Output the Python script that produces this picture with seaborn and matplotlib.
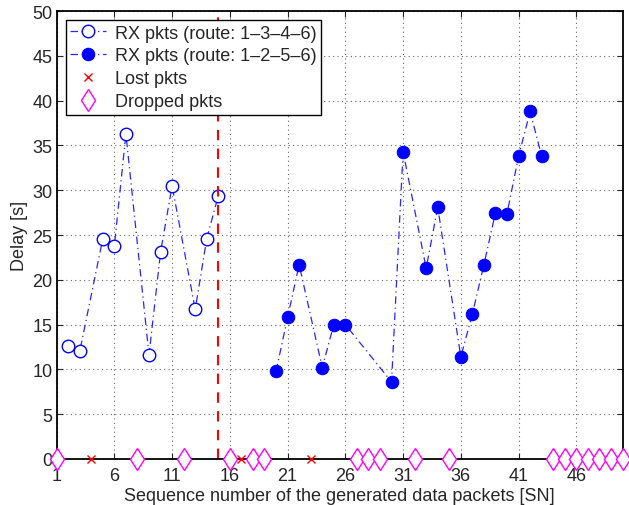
import numpy as np
import pandas as pd
import matplotlib
matplotlib.use("Agg")
import matplotlib.pyplot as plt
import seaborn as sns

# route 1-3-4-6 (before the switch)
sn_open = [2, 3, 5, 6, 7, 9, 10, 11, 13, 14, 15]
delay_open = [12.6, 12.0, 24.6, 23.8, 36.3, 11.6, 23.1, 30.5, 16.7, 24.6, 29.4]

# route 1-2-5-6 (after the switch)
sn_filled = [20, 21, 22, 24, 25, 26, 30, 31, 33, 34, 36, 37, 38, 39, 40, 41, 42, 43]
delay_filled = [9.8, 15.8, 21.7, 10.2, 15.0, 15.0, 8.6, 34.3, 21.3, 28.1,
                11.4, 16.2, 21.7, 27.5, 27.4, 33.8, 38.8, 33.8]

sn_lost = [4, 17, 23]
sn_dropped = [1, 8, 12, 16, 18, 19, 27, 28, 29, 32, 35, 44, 45, 46, 47, 48, 49, 50]
switch_sn = 15

sns.set_style("ticks")
plt.rcParams['font.family'] = ['Liberation Sans', 'DejaVu Sans']
plt.rcParams['font.size'] = 13

fig = plt.figure(figsize=(6.29, 5.06), dpi=100)
ax = fig.add_axes([0.090, 0.091, 0.8997, 0.885])

df_open = pd.DataFrame({'sn': sn_open, 'delay': delay_open})
df_filled = pd.DataFrame({'sn': sn_filled, 'delay': delay_filled})

line_col = (0.15, 0.15, 1.0)
sns.lineplot(data=df_open, x='sn', y='delay', ax=ax, sort=False,
             color=line_col, linestyle=(0, (6, 3, 1, 3)), linewidth=0.9, marker='o',
             markersize=9, markerfacecolor='white', markeredgecolor='blue',
             markeredgewidth=1.0, label='RX pkts (route: 1–3–4–6)')
sns.lineplot(data=df_filled, x='sn', y='delay', ax=ax, sort=False,
             color=line_col, linestyle=(0, (6, 3, 1, 3)), linewidth=0.9, marker='o',
             markersize=9, markerfacecolor='blue', markeredgecolor='blue',
             label='RX pkts (route: 1–2–5–6)')

ax.plot(sn_lost, np.zeros(len(sn_lost)), 'x', color='red', markersize=6,
        markeredgewidth=1.0, label='Lost pkts', clip_on=False, zorder=5)
ax.plot(sn_dropped, np.zeros(len(sn_dropped)), 'd', color='magenta',
        markerfacecolor='white', markersize=11.5, markeredgewidth=1.0,
        label='Dropped pkts', clip_on=False, zorder=5)

ax.axvline(switch_sn, color='red', linestyle=(0, (5, 4)), linewidth=1.5)

ax.set_xlim(1, 50)
ax.set_ylim(0, 50)
ax.set_xticks(np.arange(1, 50, 5))
ax.set_yticks(np.arange(0, 51, 5))
ax.grid(True, linestyle=(0, (1, 3)), color='0.4', linewidth=0.8)
ax.tick_params(direction='in', top=True, right=True, length=4, labelsize=13)
ax.tick_params(axis='x', pad=6)
ax.tick_params(axis='y', pad=3)
for s in ax.spines.values():
    s.set_color('black')
    s.set_linewidth(1.3)

ax.set_xlabel('Sequence number of the generated data packets [SN]', labelpad=2)
ax.set_ylabel('Delay [s]', labelpad=3)

leg = ax.legend(loc='upper left', frameon=True, fancybox=False,
                edgecolor='black', borderaxespad=0.5, handlelength=2.0,
                handletextpad=0.5, labelspacing=0.32, borderpad=0.25,
                fontsize=13)
leg.get_frame().set_linewidth(1.0)
leg.get_frame().set_alpha(1)

fig.savefig('out.png', dpi=100)
